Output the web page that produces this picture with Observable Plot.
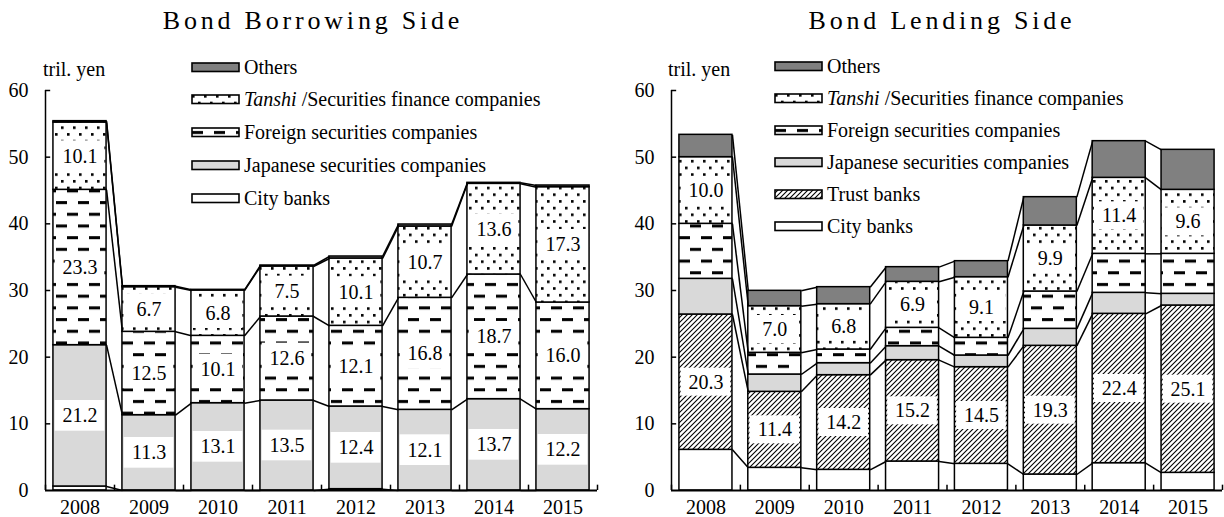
<!DOCTYPE html>
<html>
<head>
<meta charset="utf-8">
<script src="https://cdn.jsdelivr.net/npm/d3@7"></script>
<script src="https://cdn.jsdelivr.net/npm/@observablehq/plot@0.6"></script>
<style>
  body { margin: 0; background: white; }
  #wrap { position: relative; width: 1224px; height: 517px; font-family: "Liberation Serif", "Times New Roman", serif; color: black; }
  .title { position: absolute; top: 8px; font-size: 26px; line-height: 26px; letter-spacing: 3.8px; white-space: nowrap; transform: translateX(-50%); }
  .unit { position: absolute; font-size: 20px; line-height: 20px; white-space: nowrap; }
  .panel { position: absolute; top: 45px; }
  .legend { position: absolute; font-size: 20px; }
  .legend .row { display: flex; align-items: center; white-space: nowrap; }
  .legend svg { margin-right: 3px; display: block; }
</style>
</head>
<body>
<svg width="0" height="0" style="position:absolute">
  <defs>
    <pattern id="pDots" patternUnits="userSpaceOnUse" width="12" height="13.4">
      <rect width="12" height="13.4" fill="white"/>
      <rect x="1" y="1" width="2.6" height="2.6" fill="black"/>
      <rect x="7" y="7.7" width="2.6" height="2.6" fill="black"/>
    </pattern>
    <pattern id="pDash" patternUnits="userSpaceOnUse" width="22" height="23.4">
      <rect width="22" height="23.4" fill="white"/>
      <rect x="1" y="4" width="11" height="3" fill="black"/>
      <rect x="12" y="15.7" width="11" height="3" fill="black"/>
      <rect x="-10" y="15.7" width="11" height="3" fill="black"/>
    </pattern>
    <pattern id="pHatch" patternUnits="userSpaceOnUse" width="5" height="5">
      <rect width="5" height="5" fill="white"/>
      <path d="M-1,1 l2,-2 M0,5 l5,-5 M4,6 l2,-2" stroke="black" stroke-width="1.1"/>
    </pattern>
  </defs>
</svg>
<div id="wrap">
  <div class="title" style="left:313px">Bond Borrowing Side</div>
  <div class="title" style="left:942px">Bond Lending Side</div>
  <div class="unit" style="left:43px;top:59px">tril. yen</div>
  <div class="unit" style="left:668px;top:59px">tril. yen</div>
  <div id="left" class="panel" style="left:0px"></div>
  <div id="right" class="panel" style="left:612px"></div>
  <div id="legL" class="legend" style="left:191px;top:50.7px"></div>
  <div id="legR" class="legend" style="left:774px;top:50.7px"></div>
</div>
<script>
// ---- data ----
const years = [2008, 2009, 2010, 2011, 2012, 2013, 2014, 2015];
const yTicks = [0, 10, 20, 30, 40, 50, 60];

// Bond Borrowing Side (tril. yen)
const borrowCity     = [0.6, 0, 0, 0, 0.2, 0, 0, 0];
const borrowJapanese = [21.2, 11.3, 13.1, 13.5, 12.4, 12.1, 13.7, 12.2];
const borrowForeign  = [23.3, 12.5, 10.1, 12.6, 12.1, 16.8, 18.7, 16.0];
const borrowTanshi   = [10.1, 6.7, 6.8, 7.5, 10.1, 10.7, 13.6, 17.3];
const borrowOthers   = [0.2, 0.15, 0.1, 0.15, 0.3, 0.3, 0.15, 0.25];

// Bond Lending Side (tril. yen)
const lendCity     = [6.1, 3.4, 3.1, 4.35, 4.0, 2.4, 4.1, 2.65];
const lendTrust    = [20.3, 11.4, 14.2, 15.2, 14.5, 19.3, 22.4, 25.1];
const lendJapanese = [5.35, 2.6, 1.8, 2.1, 1.75, 2.55, 3.15, 1.75];
const lendForeign  = [8.25, 3.25, 2.05, 2.75, 2.65, 5.6, 5.85, 6.0];
const lendTanshi   = [10.0, 7.0, 6.8, 6.9, 9.1, 9.9, 11.4, 9.6];
const lendOthers   = [3.35, 2.3, 2.55, 2.2, 2.4, 4.25, 5.5, 6.0];

const FILL = {
  others: "#808080", tanshi: "url(#pDots)", foreign: "url(#pDash)",
  japanese: "#d9d9d9", trust: "url(#pHatch)", city: "white"
};

const borrowSeries = [
  {name: "City banks", values: borrowCity, fill: FILL.city, label: false},
  {name: "Japanese securities companies", values: borrowJapanese, fill: FILL.japanese, label: true},
  {name: "Foreign securities companies", values: borrowForeign, fill: FILL.foreign, label: true},
  {name: "Tanshi", values: borrowTanshi, fill: FILL.tanshi, label: true},
  {name: "Others", values: borrowOthers, fill: FILL.others, label: false}
];
const lendSeries = [
  {name: "City banks", values: lendCity, fill: FILL.city, label: false},
  {name: "Trust banks", values: lendTrust, fill: FILL.trust, label: true},
  {name: "Japanese securities companies", values: lendJapanese, fill: FILL.japanese, label: false},
  {name: "Foreign securities companies", values: lendForeign, fill: FILL.foreign, label: false},
  {name: "Tanshi", values: lendTanshi, fill: FILL.tanshi, label: true},
  {name: "Others", values: lendOthers, fill: FILL.others, label: false}
];

const legendL = [
  {html: "Others", fill: FILL.others},
  {html: "<i>Tanshi</i> /Securities finance companies", fill: FILL.tanshi},
  {html: "Foreign securities companies", fill: FILL.foreign},
  {html: "Japanese securities companies", fill: FILL.japanese},
  {html: "City banks", fill: FILL.city}
];
const legendR = [
  {html: "Others", fill: FILL.others},
  {html: "<i>Tanshi</i> /Securities finance companies", fill: FILL.tanshi},
  {html: "Foreign securities companies", fill: FILL.foreign},
  {html: "Japanese securities companies", fill: FILL.japanese},
  {html: "Trust banks", fill: FILL.trust},
  {html: "City banks", fill: FILL.city}
];

function panel(series, ml, mr, boxH) {
  const HW = 0.385;
  const rows = [];
  const tops = series.map(() => []);
  years.forEach((yr, i) => {
    let acc = 0;
    series.forEach((s, k) => {
      const v = s.values[i];
      rows.push({year: yr, k, y1: acc, y2: acc + v, v, label: s.label});
      acc += v;
      tops[k].push(acc);
    });
  });
  const links = [];
  series.forEach((s, k) => {
    for (let i = 0; i < years.length - 1; i++) {
      links.push({x1: years[i] + HW, x2: years[i + 1] - HW, y1: tops[k][i], y2: tops[k][i + 1]});
    }
  });
  const labels = rows.filter(r => r.label);
  const x0 = years[0] - 0.5;
  const bounds = [x0, ...years.map(y => y + 0.5)];
  const marks = [];
  series.forEach((s, k) => {
    marks.push(Plot.rect(rows.filter(r => r.k === k), {
      x1: d => d.year - HW, x2: d => d.year + HW, y1: "y1", y2: "y2",
      fill: s.fill, stroke: "black", strokeWidth: 1.5
    }));
  });
  marks.push(
    Plot.link(links, {x1: "x1", x2: "x2", y1: "y1", y2: "y2", stroke: "black", strokeWidth: 1.5}),
    Plot.rect(labels, {
      x1: d => d.year - 0.36, x2: d => d.year + 0.36,
      y1: d => (d.y1 + d.y2) / 2 - boxH, y2: d => (d.y1 + d.y2) / 2 + boxH,
      fill: "white"
    }),
    Plot.text(labels, {x: "year", y: d => (d.y1 + d.y2) / 2, text: d => d.v.toFixed(1), fontSize: 20, fill: "black"}),
    Plot.ruleX([x0], {y1: 0, y2: 60, stroke: "black", strokeWidth: 1.5}),
    Plot.ruleY(yTicks.slice(1), {x1: x0, x2: x0 + 0.075, stroke: "black", strokeWidth: 1.5}),
    Plot.ruleX(bounds, {y1: 0, y2: 0.8, stroke: "black", strokeWidth: 1.5}),
    Plot.ruleY([0], {stroke: "black", strokeWidth: 2}),
    Plot.axisX({ticks: years, tickFormat: d => String(d), tickSize: 0, tickPadding: 9, label: null, fontSize: 20}),
    Plot.axisY({ticks: yTicks, tickSize: 0, tickPadding: 17, label: null, fontSize: 20})
  );
  return Plot.plot({
    width: 612, height: 472,
    marginTop: 45, marginBottom: 27, marginLeft: ml, marginRight: mr,
    x: {type: "linear", domain: [x0, years[years.length - 1] + 0.5]},
    y: {domain: [0, 60]},
    style: {fontFamily: "'Liberation Serif', 'Times New Roman', serif", fontSize: "20px", color: "black", background: "transparent", overflow: "visible"},
    marks
  });
}

document.getElementById("left").append(panel(borrowSeries, 45, 15, 2.3));
document.getElementById("right").append(panel(lendSeries, 59, 2, 2.1));

function legend(el, items, spacing) {
  items.forEach(it => {
    const row = document.createElement("div");
    row.className = "row";
    row.style.height = spacing + "px";
    row.innerHTML = `<svg width="50" height="11"><rect x="1" y="1" width="47" height="8.5" fill="${it.fill}" stroke="black" stroke-width="1.6"/></svg><span>${it.html}</span>`;
    el.append(row);
  });
}
legend(document.getElementById("legL"), legendL, 32.8);
legend(document.getElementById("legR"), legendR, 32);
</script>
</body>
</html>
